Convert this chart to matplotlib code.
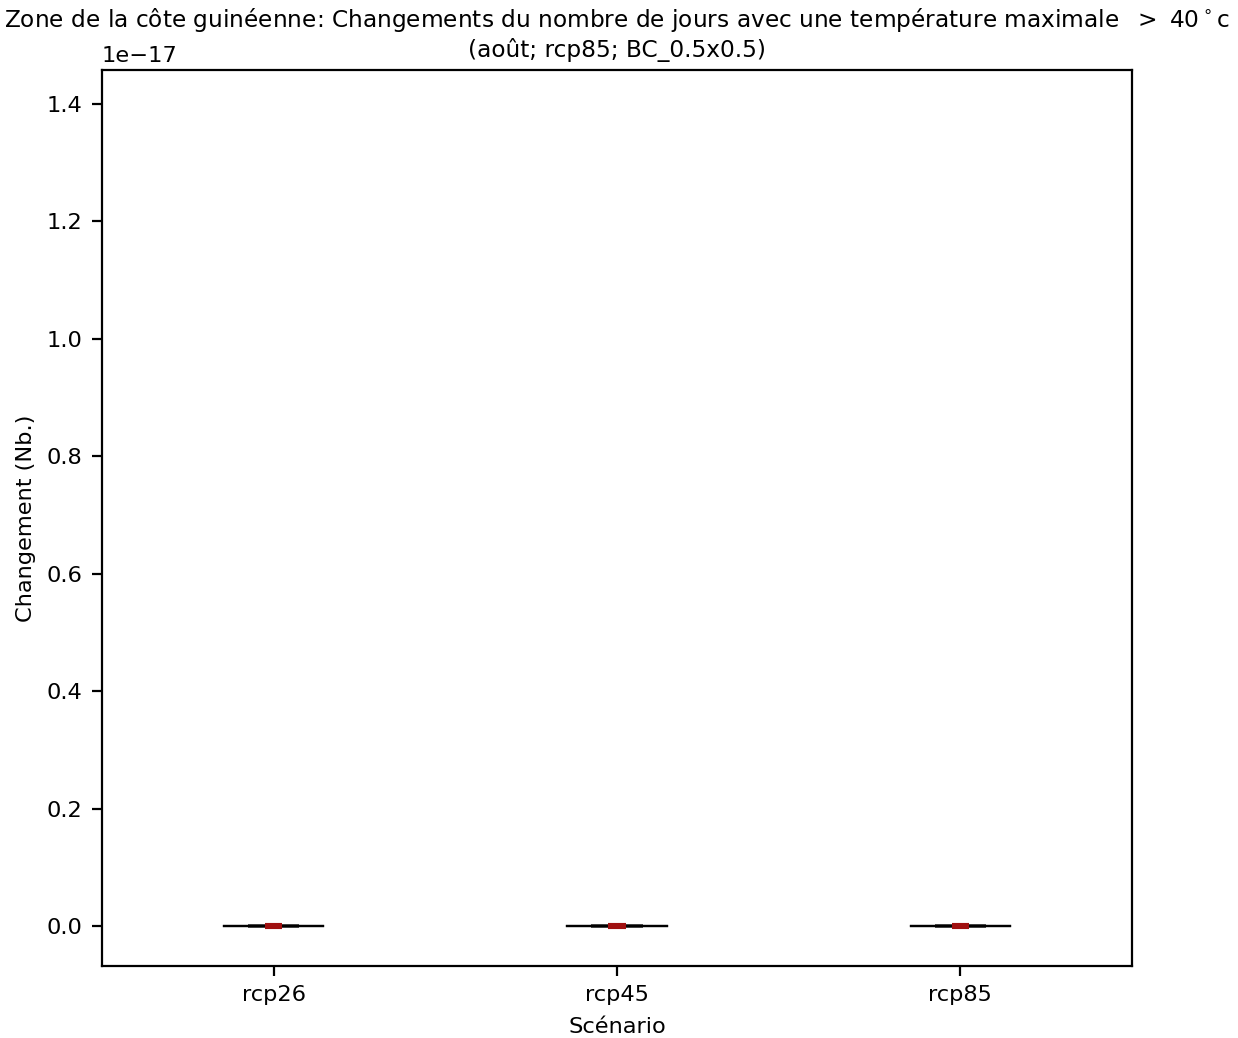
import matplotlib
matplotlib.use("Agg")
import matplotlib.pyplot as plt
import numpy as np

scenarios = ["rcp26", "rcp45", "rcp85"]
# change values (all zero in the chart)
p10 = [0.0, 0.0, 0.0]
q25 = [0.0, 0.0, 0.0]
median = [0.0, 0.0, 0.0]
q75 = [0.0, 0.0, 0.0]
p90 = [0.0, 0.0, 0.0]
ylim = (-0.068e-17, 1.458e-17)

DPI = 200
FS = 8.1
fig = plt.figure(figsize=(1238 / DPI, 1038 / DPI), dpi=DPI)
ax = fig.add_axes([102/1238, 1 - 966/1038, 1030/1238, 896/1038])

pos = np.arange(len(scenarios))
stats = []
for i in range(len(scenarios)):
    stats.append(dict(med=median[i], q1=q25[i], q3=q75[i], whislo=p10[i], whishi=p90[i], fliers=[]))
ax.bxp(stats, positions=pos, widths=0.15, capwidths=0.29, patch_artist=True,
       boxprops=dict(facecolor="0.35", edgecolor="0.3", linewidth=1.4),
       whiskerprops=dict(color="black", linewidth=0.8),
       capprops=dict(color="black", linewidth=0.8),
       medianprops=dict(color="none"), showfliers=False)
ax.hlines(median, pos - 0.025, pos + 0.025, colors="#a01010", linewidth=2.2, zorder=5)

ax.set_xlim(-0.5, 2.5)
ax.set_ylim(*ylim)
ax.set_xticks(pos)
ax.set_xticklabels(scenarios)
ax.tick_params(labelsize=FS)
ax.yaxis.get_offset_text().set_fontsize(FS)
ax.set_xlabel("Scénario", fontsize=FS)
ax.set_ylabel("Changement (Nb.)", fontsize=FS)
ax.set_title("Zone de la côte guinéenne: Changements du nombre de jours avec une température maximale  $>$ 40$^\\circ$c\n(août; rcp85; BC_0.5x0.5)",
             fontsize=8.4, y=1.0, pad=4.7)

fig.savefig("out.png", dpi=DPI)
